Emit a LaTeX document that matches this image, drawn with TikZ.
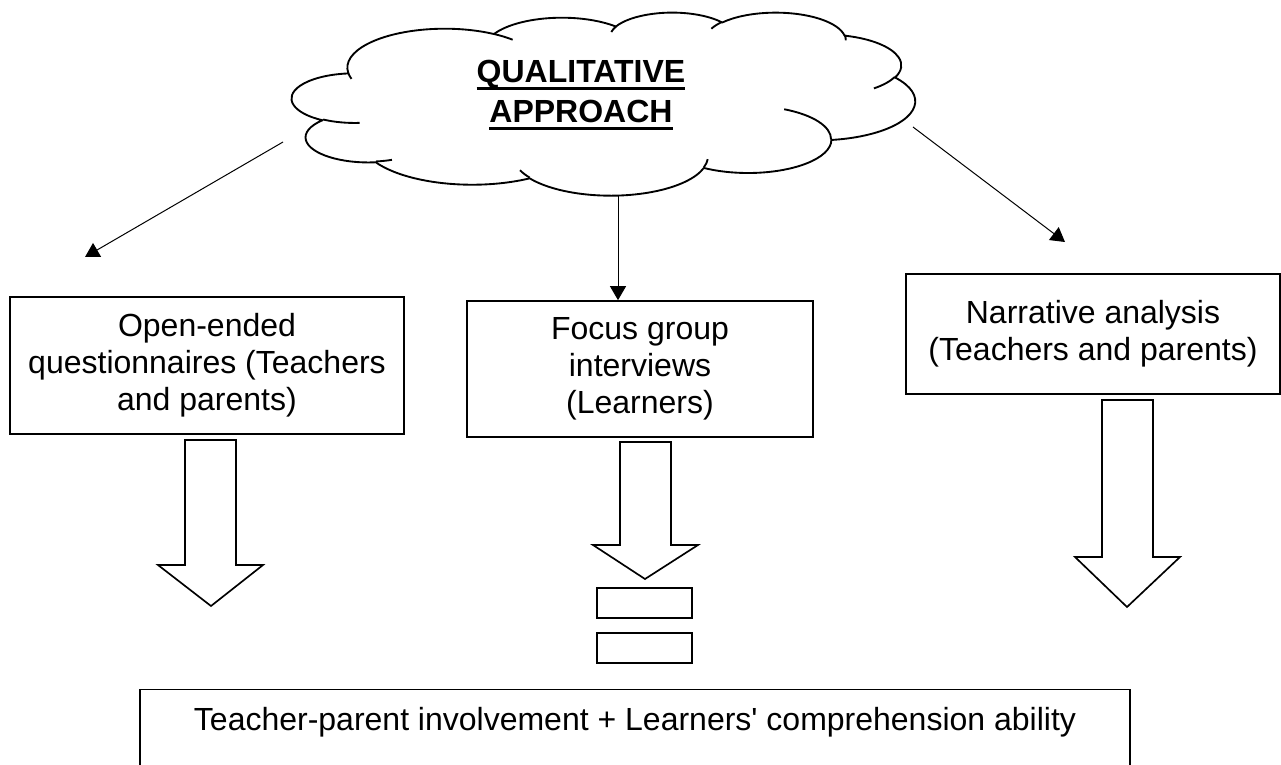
\documentclass[tikz,border=0pt]{standalone}
\usepackage{fontspec}
\setmainfont{Liberation Sans}
\usetikzlibrary{arrows.meta}
\newcommand\ulbox[1]{\setbox0\hbox{#1}\rlap{\rule[-5.3pt]{\wd0}{2pt}}\box0}
\begin{document}
\begin{tikzpicture}[x=0.75pt,y=-0.75pt,
  txt/.style={font=\fontsize{24}{27.6}\selectfont},
  box/.style={draw, line width=1.25pt, rectangle, align=center, inner sep=0pt, txt},
  thinarrow/.style={line width=0.75pt, -{Triangle[length=10.5pt,width=12pt]}},
  blockarrow/.style={draw, line width=1.25pt, fill=white, line join=miter},
  eqbar/.style={draw, line width=1.25pt, rectangle, inner sep=0pt, minimum width=71.25pt, minimum height=22.5pt},
  cloudline/.style={draw, line width=1.4pt, line join=round}]
\useasboundingbox (0,0) rectangle (1281,764);
\clip (0,0) rectangle (1281,764);
\fill[white] (0,0) rectangle (1281,764);
% cloud (Office cloud outline, visual angles converted)
\begin{scope}[shift={(219pt,-9pt)}, x=4.6725pt, y=-1.3725pt]
\draw[cloudline, fill=white] (9.028,33.264)
 arc[start angle=-187.744, end angle=-59.63, x radius=15.632, y radius=21.273]
 arc[start angle=-152.02, end angle=-45.45, x radius=12.345, y radius=16.822]
 arc[start angle=-153.49, end angle=-37.33, x radius=10.104, y radius=13.762]
 arc[start angle=-139.71, end angle=-10.21, x radius=11.243, y radius=15.266]
 arc[start angle=-74.77, end angle=23.21, x radius=12.345, y radius=16.836]
 arc[start angle=-37.52, end angle=81.86, x radius=15.683, y radius=21.343]
 arc[start angle=0.46, end angle=121.97, x radius=13.391, y radius=18.211]
 arc[start angle=16.84, end angle=146.24, x radius=15.630, y radius=21.331]
 arc[start angle=58.98, end angle=150.18, x radius=17.870, y radius=24.405]
 arc[start angle=83.31, end angle=223.09, x radius=10.093, y radius=13.699]
 arc[start angle=120.35, end angle=264.11, x radius=10.058, y radius=13.762]
 -- cycle;
\draw[cloudline] (10.863,60.595) arc[start angle=85.547, end angle=120.35, x radius=10.058, y radius=13.762];
\draw[cloudline] (16.037,80.785) arc[start angle=68.23, end angle=83.31, x radius=10.093, y radius=13.699];
\draw[cloudline] (38.144,90.486) arc[start angle=146.24, end angle=158.47, x radius=15.630, y radius=21.331];
\draw[cloudline] (66.729,80.442) arc[start angle=4.737, end angle=16.84, x radius=15.630, y radius=21.331];
\draw[cloudline] (79.002,53.134) arc[start angle=-64.03, end angle=0.46, x radius=13.391, y radius=18.211];
\draw[cloudline] (96.755,35.542) arc[start angle=23.21, end angle=49.65, x radius=12.345, y radius=16.836];
\draw[cloudline] (88.713,12.560) arc[start angle=-10.21, end angle=0.82, x radius=11.243, y radius=15.266];
\draw[cloudline] (67.310,9.148) arc[start angle=-156.29, end angle=-139.71, x radius=11.243, y radius=15.266];
\draw[cloudline] (51.252,10.926) arc[start angle=-167.73, end angle=-153.49, x radius=10.104, y radius=13.762];
\draw[cloudline] (32.407,12.019) arc[start angle=-59.63, end angle=-45.72, x radius=15.632, y radius=21.273];
\draw[cloudline] (9.553,36.549) arc[start angle=163.19, end angle=172.256, x radius=15.632, y radius=21.273];
\end{scope}
\node[font=\fontsize{24}{30}\selectfont\bfseries, align=center, inner sep=0pt] (title) at (581,95) {\ulbox{QUALITATIVE}\\\ulbox{APPROACH}};
% boxes
\node[box, minimum width=295.5pt, minimum height=102.75pt] (oe) at (207,365.5) {Open-ended\\questionnaires (Teachers\\and parents)};
\node[box, minimum width=259.5pt, minimum height=102pt] (fg) at (640,369) {Focus group\\interviews\\(Learners)};
\node[box, minimum width=280.5pt, minimum height=90pt] (na) at (1093,334) {Narrative analysis\\(Teachers and parents)};
\node[draw, line width=0.8pt, rectangle, minimum width=742.5pt, minimum height=90pt, inner sep=0pt, anchor=north] (res) at (635,689) {};
\node[txt, anchor=base, inner sep=0pt] (restext) at (635,730) {Teacher-parent involvement + Learners\textquotesingle{} comprehension ability};
% thin arrows
\coordinate (l0) at (283,142);
\coordinate (l1) at (85,257);
\draw[thinarrow] (l0) -- (l1);
\coordinate (m0) at (618,195);
\draw[thinarrow] (m0) -- (m0 |- fg.north);
\coordinate (r0) at (913,127);
\coordinate (r1) at (1065,242);
\draw[thinarrow] (r0) -- (r1);
% block arrows
\draw[blockarrow] (185,440) -- (185,565) -- (158,565) -- (211,606) -- (263,565) -- (236,565) -- (236,440) -- cycle;
\draw[blockarrow] (620,442) -- (620,545) -- (593,545) -- (645,579) -- (698,545) -- (671,545) -- (671,442) -- cycle;
\draw[blockarrow] (1102,400) -- (1102,557) -- (1075,557) -- (1127,607) -- (1180,557) -- (1153,557) -- (1153,400) -- cycle;
% equals bars
\node[eqbar] (eq1) at (644.5,603) {};
\node[eqbar] (eq2) at (644.5,648) {};
\end{tikzpicture}
\end{document}
